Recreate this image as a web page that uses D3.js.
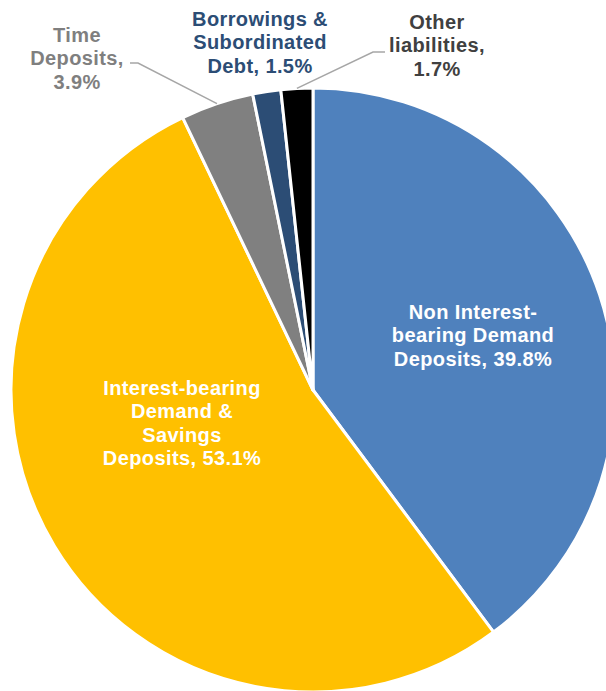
<!DOCTYPE html>
<html>
<head>
<meta charset="utf-8">
<script src="https://cdn.jsdelivr.net/npm/d3@7"></script>
<style>
  body { margin: 0; background: #fff; }
  svg { display: block; }
</style>
</head>
<body>
<div class="chart"></div>
<script>

// data
var categories = ["Non Interest-bearing Demand Deposits", "Interest-bearing Demand & Savings Deposits", "Time Deposits", "Borrowings & Subordinated Debt", "Other liabilities"];
var shares = [39.8, 53.1, 3.9, 1.5, 1.7];
var labelLines = [
  ["Non Interest-", "bearing Demand", "Deposits, 39.8%"],
  ["Interest-bearing", "Demand &", "Savings", "Deposits, 53.1%"],
  ["Time", "Deposits,", "3.9%"],
  ["Borrowings &", "Subordinated", "Debt, 1.5%"],
  ["Other", "liabilities,", "1.7%"]
];

var colors = ["#4F81BD", "#FFC000", "#808080", "#2C4D75", "#000000"];
var textColors = ["#fff", "#fff", "#7F7F7F", "#2C4D75", "#404040"];

var width = 606, height = 691;
var cx = 313, cy = 390, radius = 302;

var svg = d3.select(".chart")
  .append("svg")
    .attr("width", width)
    .attr("height", height);

var g = svg.append("g")
  .attr("transform", "translate(" + cx + "," + cy + ")");

var pie = d3.pie().sort(null).value(function(d) { return d; });
var arcs = pie(shares);

var arc = d3.arc().innerRadius(0).outerRadius(radius);

g.selectAll(".slice")
  .data(arcs)
  .enter().append("path")
    .attr("class", "slice")
    .attr("d", arc)
    .style("fill", function(d, i) { return colors[i]; })
    .style("stroke", "#fff")
    .style("stroke-width", 3)
    .style("stroke-linejoin", "round");

// label placement (relative to pie centre), like excel's best fit
var labelPos = [
  { x: 160, y: -55 },
  { x: -131, y: 33 },
  { x: -236, y: -332 },
  { x: -53, y: -348 },
  { x: 124, y: -345 }
];

var lineH = 23.5;

labelLines.forEach(function(lines, i) {
  var p = labelPos[i];
  var top = p.y - (lines.length - 1) * lineH / 2;
  var t = g.append("text")
    .attr("text-anchor", "middle")
    .style("font-family", "Arial, 'Liberation Sans', sans-serif")
    .style("font-weight", "bold")
    .style("font-size", "20px")
    .style("letter-spacing", "0.4px")
    .style("fill", textColors[i]);
  lines.forEach(function(s, j) {
    t.append("tspan")
      .attr("x", p.x)
      .attr("y", top + j * lineH + 7)
      .text(s);
  });
});

// leader lines from slice edge to label
var outer = d3.arc().innerRadius(radius).outerRadius(radius);
function leader(i, elbow, end) {
  var c = outer.centroid(arcs[i]);
  g.append("polyline")
    .attr("points", [c, elbow, end].map(function(p) { return p.join(","); }).join(" "))
    .style("fill", "none")
    .style("stroke", "#A6A6A6")
    .style("stroke-width", 1.5);
}
leader(2, [-175, -327], [-183, -327]);
leader(4, [60, -338], [72, -338]);

</script>
</body>
</html>
